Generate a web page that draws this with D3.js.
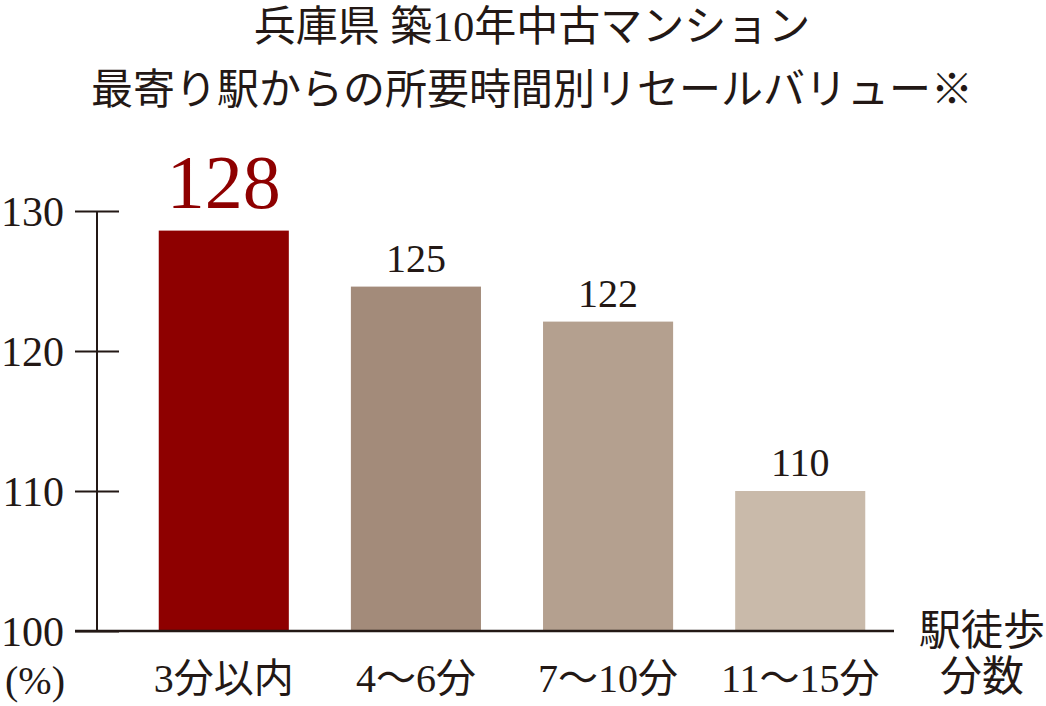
<!DOCTYPE html>
<html>
<head>
  <meta charset="utf-8">
  <title>兵庫県 築10年中古マンション</title>
  <style>
    body { margin: 0; background: #fff; }
    svg text { font-family: "Liberation Serif", "Noto Sans CJK JP", serif; fill: #231815; }
  </style>
  <script src="https://d3js.org/d3.v7.min.js"></script>
</head>
<body>
  <svg id="chart" width="1046" height="706"></svg>
  <script>
    var categories = ["3分以内", "4〜6分", "7〜10分", "11〜15分"];
    var values = [128.6, 124.6, 122.1, 110.0];
    var valueLabels = ["128", "125", "122", "110"];
    var yTicks = [100, 110, 120, 130];
    var barColors = ["#8e0000", "#a38b7a", "#b4a08f", "#c9baaa"];
    var titleLines = ["兵庫県 築10年中古マンション", "最寄り駅からの所要時間別リセールバリュー※"];

    var svg = d3.select("#chart");
    var ink = "#231815";

    var x = d3.scaleBand()
        .domain(categories)
        .range([128, 896])
        .paddingInner(0.323)
        .paddingOuter(0.16);

    var y = d3.scaleLinear()
        .domain([100, 130])
        .range([631, 211]);

    // title
    svg.selectAll(".title")
        .data(titleLines)
        .join("text")
        .attr("class", "title")
        .attr("x", 532)
        .attr("y", (d, i) => 41 + i * 63)
        .attr("text-anchor", "middle")
        .style("font-size", "42px")
        .text(d => d);

    // bars
    svg.selectAll("rect.bar")
        .data(values)
        .join("rect")
        .attr("class", "bar")
        .attr("x", (d, i) => x(categories[i]))
        .attr("y", d => y(d))
        .attr("width", x.bandwidth())
        .attr("height", d => y(100) - y(d))
        .attr("fill", (d, i) => barColors[i]);

    // value labels
    svg.selectAll("text.val")
        .data(values)
        .join("text")
        .attr("class", "val")
        .attr("x", (d, i) => x(categories[i]) + x.bandwidth() / 2)
        .attr("y", (d, i) => i === 0 ? y(d) - 23 : y(d) - 15)
        .attr("text-anchor", "middle")
        .style("font-size", (d, i) => i === 0 ? "76px" : "40px")
        .style("fill", (d, i) => i === 0 ? "#8e0000" : ink)
        .text((d, i) => valueLabels[i]);

    // y axis
    var yAxis = d3.axisLeft(y)
        .tickValues(yTicks)
        .tickSize(0)
        .tickPadding(0);

    var ag = svg.append("g")
        .attr("transform", "translate(97,0)")
        .call(yAxis);
    ag.select(".domain").remove();
    ag.selectAll(".tick line").remove();
    ag.selectAll(".tick").append("line")
        .attr("x1", -22)
        .attr("x2", 22)
        .attr("stroke", ink)
        .attr("stroke-width", 2);
    ag.selectAll(".tick text")
        .attr("x", -33)
        .attr("dy", "0.35em")
        .attr("fill", ink)
        .style("font-family", "Liberation Serif, serif")
        .style("font-size", "42px");

    svg.append("line")
        .attr("x1", 97).attr("x2", 97)
        .attr("y1", y(130)).attr("y2", y(100))
        .attr("stroke", ink)
        .attr("stroke-width", 2);

    // baseline
    svg.append("line")
        .attr("x1", 75).attr("x2", 894)
        .attr("y1", y(100)).attr("y2", y(100))
        .attr("stroke", ink)
        .attr("stroke-width", 2.5);

    // x labels
    svg.selectAll("text.cat")
        .data(categories)
        .join("text")
        .attr("class", "cat")
        .attr("x", d => x(d) + x.bandwidth() / 2)
        .attr("y", 692)
        .attr("text-anchor", "middle")
        .style("font-size", "40px")
        .text(d => d);

    svg.append("text")
        .attr("x", 35).attr("y", 694)
        .attr("text-anchor", "middle")
        .style("font-size", "40px")
        .text("(%)");

    svg.selectAll("text.xt")
        .data(["駅徒歩", "分数"])
        .join("text")
        .attr("class", "xt")
        .attr("x", 982)
        .attr("y", (d, i) => 645 + i * 46)
        .attr("text-anchor", "middle")
        .style("font-size", "42px")
        .text(d => d);
  </script>
</body>
</html>
